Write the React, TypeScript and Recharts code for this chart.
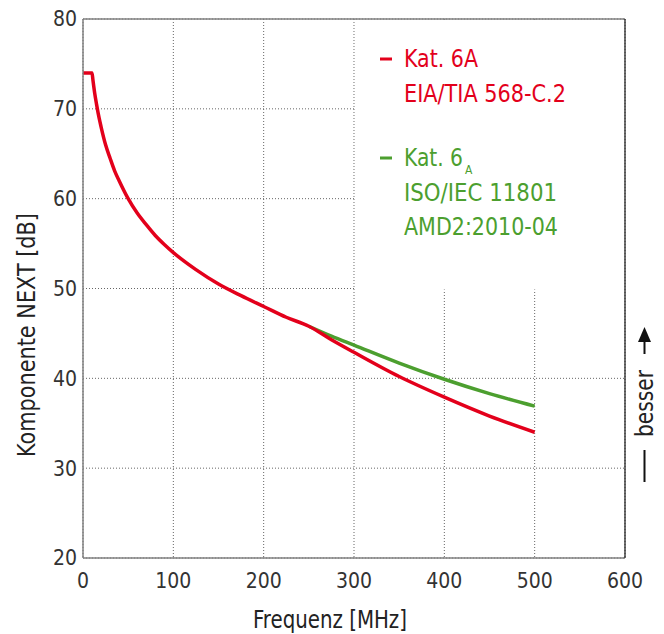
import React from 'react';
import {
  LineChart,
  Line,
  XAxis,
  YAxis,
  CartesianGrid,
  ReferenceArea,
} from 'recharts';

// Frequency in MHz, NEXT in dB
const redFreq = [0, 10, 11, 13, 15, 18, 20, 25, 30, 35, 40, 50, 60, 70, 80, 90, 100, 125, 150, 175, 200, 225, 250, 275, 300, 350, 400, 450, 500];
const redNext = [74, 74, 73.2, 71.7, 70.5, 68.9, 68.0, 66.0, 64.5, 63.1, 62.0, 60.0, 58.4, 57.1, 55.9, 54.9, 54.0, 52.1, 50.5, 49.2, 48.0, 46.8, 45.8, 44.3, 42.9, 40.2, 37.9, 35.8, 34.0];

const greenFreq = [250, 275, 300, 350, 400, 450, 500];
const greenNext = [45.8, 44.7, 43.7, 41.7, 39.9, 38.3, 36.9];

const xTicks = [0, 100, 200, 300, 400, 500, 600];
const yTicks = [20, 30, 40, 50, 60, 70, 80];

const RED = '#e3001b';
const GREEN = '#4c9f2f';
const FONT = "'DejaVu Sans Condensed', 'DejaVu Sans', sans-serif";

const redData = redFreq.map((f, i) => ({ f, v: redNext[i] }));
const greenData = greenFreq.map((f, i) => ({ f, v: greenNext[i] }));

const tickStyle = { fontSize: 21, fill: '#333', fontFamily: FONT };

export default function App() {
  return (
    <div style={{ position: 'absolute', left: 0, top: 0, width: 664, height: 634, background: '#fff' }}>
      <LineChart width={664} height={634} margin={{ top: 19, right: 39, bottom: 36, left: 23 }}>
        <CartesianGrid stroke="#666" strokeDasharray="1 2" />
        <ReferenceArea x1={301} x2={599} y1={49.9} y2={79.9} fill="#fff" fillOpacity={1} stroke="none" />
        <XAxis
          dataKey="f"
          type="number"
          domain={[0, 600]}
          ticks={xTicks}
          height={40}
          tickLine={false}
          tickSize={0}
          tickMargin={15}
          axisLine={{ stroke: '#808080', strokeWidth: 1.5 }}
          tick={tickStyle}
          allowDataOverflow
        />
        <XAxis
          xAxisId="t"
          orientation="top"
          mirror
          type="number"
          domain={[0, 600]}
          ticks={xTicks}
          tickSize={4}
          tickFormatter={() => ''}
          stroke="#808080"
          axisLine={{ stroke: '#808080', strokeWidth: 1.5 }}
        />
        <YAxis
          type="number"
          domain={[20, 80]}
          ticks={yTicks}
          width={60}
          tickLine={false}
          tickSize={0}
          tickMargin={6}
          axisLine={{ stroke: '#808080', strokeWidth: 1.5 }}
          tick={tickStyle}
        />
        <YAxis
          yAxisId="r"
          orientation="right"
          mirror
          type="number"
          domain={[20, 80]}
          ticks={yTicks}
          tickSize={4}
          tickFormatter={() => ''}
          stroke="#222"
          axisLine={{ stroke: '#222', strokeWidth: 1.3 }}
        />
        <Line data={greenData} dataKey="v" type="monotone" stroke={GREEN} strokeWidth={3.5} dot={false} isAnimationActive={false} />
        <Line data={redData} dataKey="v" type="monotone" stroke={RED} strokeWidth={3.5} dot={false} isAnimationActive={false} />
      </LineChart>
      <svg width={664} height={634} style={{ position: 'absolute', left: 0, top: 0, pointerEvents: 'none' }}>
        <g fontFamily={FONT}>
          <text x={253} y={628} fontSize={25} fill="#222" textLength={154} lengthAdjust="spacingAndGlyphs">
            Frequenz [MHz]
          </text>
          <text
            transform="translate(35,457) rotate(-90)"
            fontSize={25}
            fill="#222"
            textLength={244}
            lengthAdjust="spacingAndGlyphs"
          >
            Komponente NEXT [dB]
          </text>

          <rect x={380} y={57.5} width={12} height={3} fill={RED} />
          <text x={404} y={67} fontSize={24.5} fill={RED} textLength={74} lengthAdjust="spacingAndGlyphs">Kat. 6A</text>
          <text x={404} y={102} fontSize={24.5} fill={RED} textLength={162} lengthAdjust="spacingAndGlyphs">EIA/TIA 568-C.2</text>

          <rect x={380} y={156.5} width={12} height={3} fill={GREEN} />
          <text x={404} y={166} fontSize={24.5} fill={GREEN}>
            <tspan textLength={59} lengthAdjust="spacingAndGlyphs">Kat. 6</tspan>
            <tspan x={465} dy={8} fontSize={12}>A</tspan>
          </text>
          <text x={404} y={201} fontSize={24.5} fill={GREEN} textLength={153} lengthAdjust="spacingAndGlyphs">ISO/IEC 11801</text>
          <text x={404} y={235} fontSize={24.5} fill={GREEN} textLength={154} lengthAdjust="spacingAndGlyphs">AMD2:2010-04</text>

          <polygon points="644.5,327 638,342 651,342" fill="#111" />
          <line x1={644.5} y1={340} x2={644.5} y2={354} stroke="#111" strokeWidth={2} />
          <text
            transform="translate(653,437) rotate(-90)"
            fontSize={25}
            fill="#222"
            textLength={67}
            lengthAdjust="spacingAndGlyphs"
          >
            besser
          </text>
          <line x1={644.5} y1={450} x2={644.5} y2={482} stroke="#111" strokeWidth={2} />
        </g>
      </svg>
    </div>
  );
}
